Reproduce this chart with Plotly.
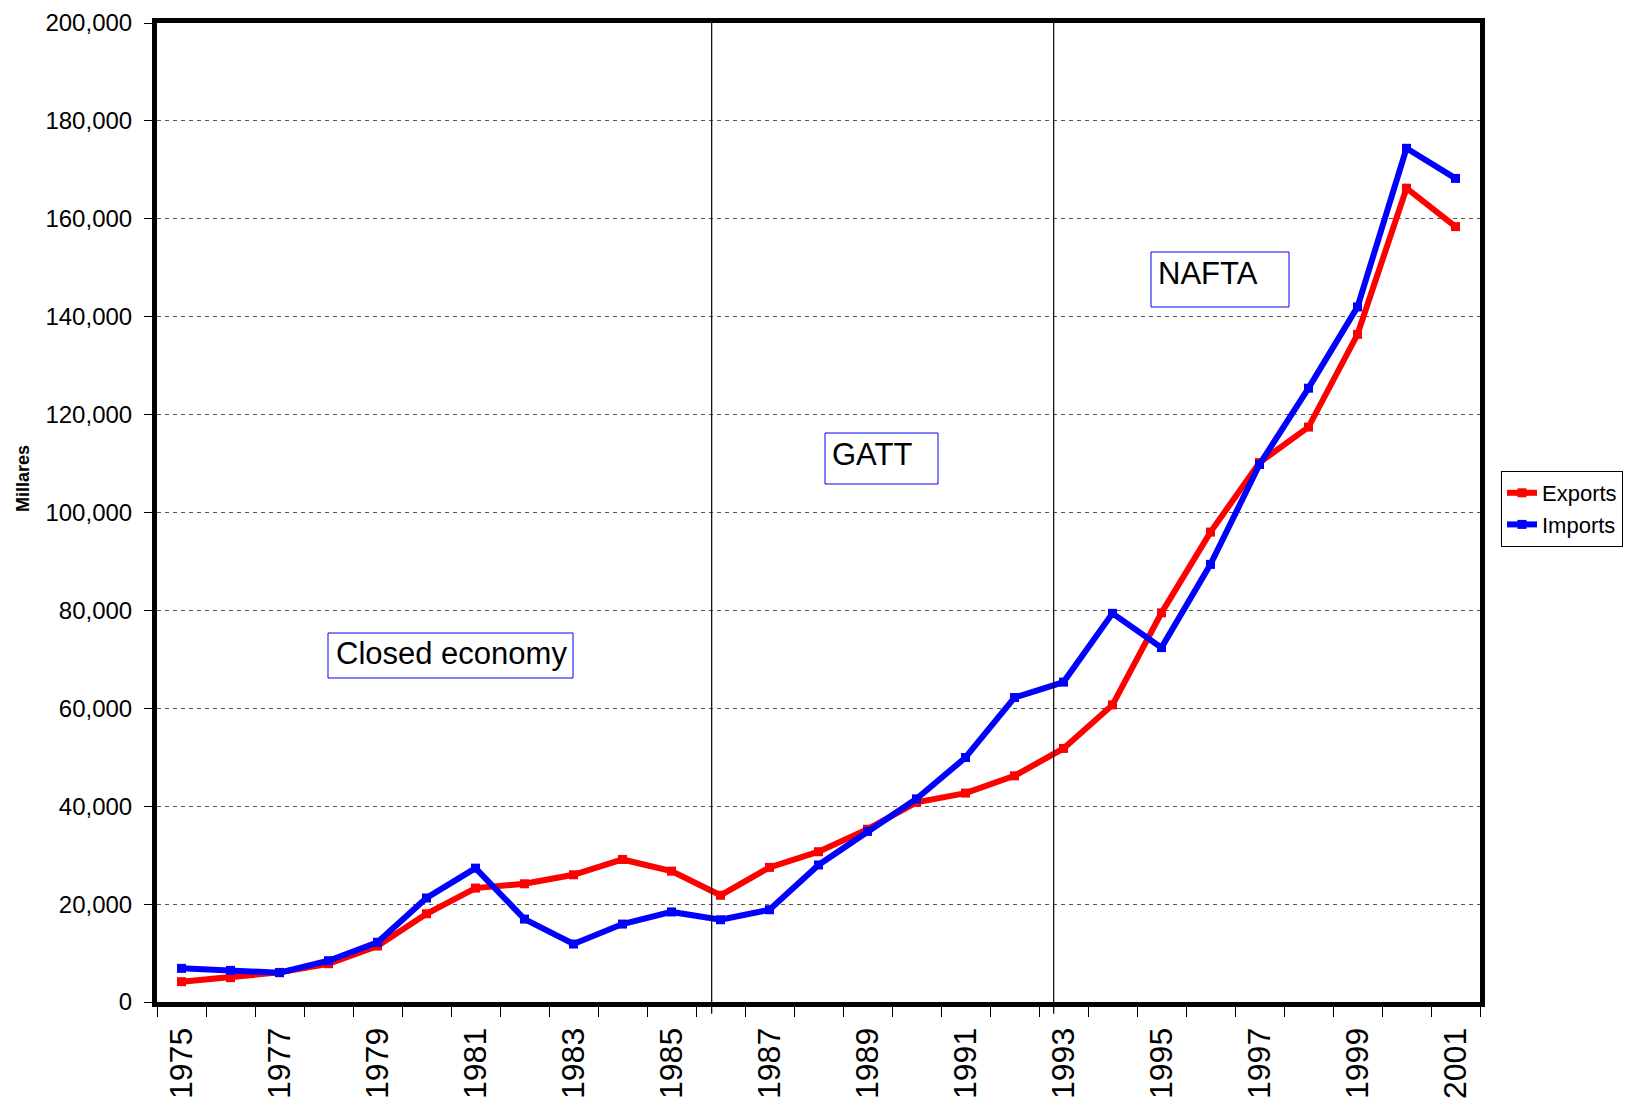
import plotly.graph_objects as go

years = list(range(1975, 2002))
exports = [4150, 4970, 6050, 7820, 11430, 18030, 23270, 24150, 25990, 29120,
           26730, 21800, 27500, 30700, 35300, 40780, 42680, 46200, 51800, 60700,
           79500, 96000, 110200, 117450, 136400, 166250, 158400]
imports = [6870, 6460, 5990, 8440, 12200, 21250, 27350, 16940, 11840, 15920,
           18400, 16800, 18850, 28000, 34850, 41500, 49950, 62200, 65350, 79400,
           72400, 89400, 109800, 125400, 142000, 174400, 168250]
tick_years = list(range(1975, 2002, 2))
boundaries = [1974.5 + i for i in range(28)]
period_lines = [1985.82, 1992.8]
y_ticks = list(range(0, 200001, 20000))
period_labels = ["Closed economy", "GATT", "NAFTA"]

FONT = "Arial, Liberation Sans, sans-serif"

# screen-pixel geometry of the plot frame (reference)
PL, PT, PW, PH = 157, 23, 1323, 979
def px(x):
    return (x - PL) / PW
def py(y):
    return (PT + PH - y) / PH

fig = go.Figure()
fig.add_trace(go.Scatter(x=years, y=exports, name="Exports", mode="lines+markers",
                         line=dict(color="#FF0000", width=6),
                         marker=dict(symbol="square", size=9, color="#FF0000")))
fig.add_trace(go.Scatter(x=years, y=imports, name="Imports", mode="lines+markers",
                         line=dict(color="#0000FF", width=6),
                         marker=dict(symbol="square", size=9, color="#0000FF")))

for xv in period_lines:
    fig.add_shape(type="line", xref="x", yref="paper", x0=xv, x1=xv, y0=-0.012, y1=1,
                  line=dict(color="black", width=1.2), layer="above")

# label boxes: (x0, y0, x1, y1) in screen px, text left x, text centre y
boxes = [(328, 633, 573, 678, 335, 654),
         (825, 433, 938, 484, 831, 455),
         (1151, 252, 1289, 307, 1157, 273)]
for label, (x0, y0, x1, y1, tx, ty) in zip(period_labels, boxes):
    fig.add_shape(type="rect", xref="paper", yref="paper",
                  x0=px(x0), x1=px(x1), y0=py(y1), y1=py(y0),
                  line=dict(color="#0000FF", width=1), fillcolor="white", layer="above")
    fig.add_annotation(xref="paper", yref="paper", x=px(tx), y=py(ty),
                       xanchor="left", yanchor="middle", text=label, showarrow=False,
                       borderpad=0, font=dict(family=FONT, size=31, color="black"))

fig.add_annotation(xref="paper", yref="paper", x=px(23), y=py(479),
                   text="<b>Millares</b>", textangle=-90, showarrow=False,
                   xanchor="center", yanchor="middle",
                   font=dict(family=FONT, size=18, color="black"))

fig.update_layout(
    width=1634, height=1108,
    margin=dict(l=149, r=162, t=15, b=114),
    paper_bgcolor="white", plot_bgcolor="white",
    font=dict(family=FONT, color="black"),
    showlegend=True,
    legend=dict(x=px(1501), y=py(471), xanchor="left", yanchor="top",
                bordercolor="black", borderwidth=1, bgcolor="white",
                font=dict(family=FONT, size=22, color="black"),
                tracegroupgap=0, itemwidth=30),
    xaxis=dict(range=[1974.5, 2001.5], tickmode="array", tickvals=tick_years,
               ticktext=[str(y) for y in tick_years], tickangle=-90,
               ticks="outside", ticklen=8, tickcolor="rgba(0,0,0,0)",
               ticklabeloverflow="allow",
               tickfont=dict(family=FONT, size=32, color="black"),
               showgrid=False, zeroline=False, automargin=False,
               showline=True, linecolor="black", linewidth=5, mirror=True,
               minor=dict(tickmode="array", tickvals=boundaries, ticks="outside",
                          ticklen=10, tickcolor="black", tickwidth=1, showgrid=False)),
    yaxis=dict(range=[0, 200000], tickmode="array", tickvals=y_ticks,
               tickformat=",d", ticks="outside", ticklen=8, tickcolor="black",
               ticklabelstandoff=7, ticklabeloverflow="allow",
               tickfont=dict(family=FONT, size=24, color="black"),
               showgrid=True, gridcolor="#555555", gridwidth=1, griddash="4px,4px",
               zeroline=False, automargin=False,
               showline=True, linecolor="black", linewidth=5, mirror=True),
)

fig.write_html("out.html")
